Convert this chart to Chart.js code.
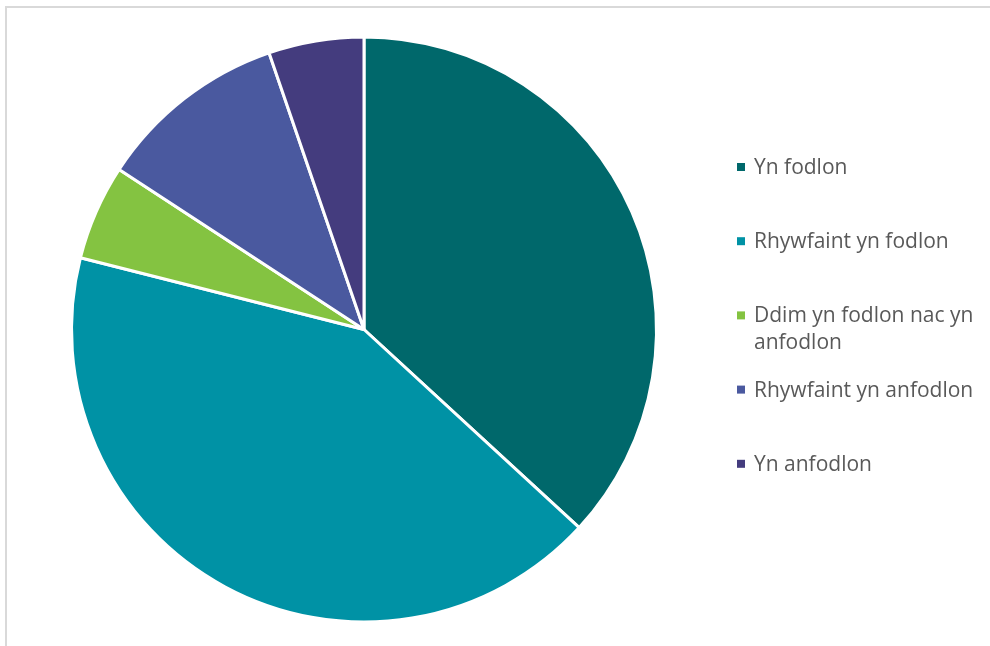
<!DOCTYPE html>
<html>
<head>
<meta charset="utf-8">
<script src="https://cdn.jsdelivr.net/npm/chart.js@4.4.0/dist/chart.umd.min.js"></script>
<style>
  html, body { margin: 0; padding: 0; background: #ffffff; overflow: hidden; }
  #wrap { position: relative; width: 990px; height: 646px; }
  #frame { position: absolute; left: 5px; top: 6px; width: 1000px; height: 660px;
           border-left: 2px solid #d9d9d9; border-top: 2px solid #d9d9d9; box-sizing: border-box; }
  canvas { position: absolute; left: 0; top: 0; }
</style>
</head>
<body>
<div id="wrap">
  <div id="frame"></div>
  <canvas id="c" width="990" height="646"></canvas>
</div>
<script>
const categories = [
  "Yn fodlon",
  "Rhywfaint yn fodlon",
  "Ddim yn fodlon nac yn anfodlon",
  "Rhywfaint yn anfodlon",
  "Yn anfodlon"
];
const values = [7, 8, 1, 2, 1];
const colors = ["#00686b", "#0092a5", "#84c341", "#4a599f", "#443c7e"];

const sideLegend = {
  id: 'sideLegend',
  afterDraw(chart) {
    const ctx = chart.ctx;
    const x0 = 737, textX = 754, y0 = 167, step = 74.2, lineH = 27, maxW = 235;
    ctx.save();
    ctx.font = '21px "Open Sans", sans-serif';
    ctx.textBaseline = 'middle';
    chart.data.labels.forEach((lab, i) => {
      const y = y0 + i * step;
      ctx.fillStyle = chart.data.datasets[0].backgroundColor[i];
      ctx.fillRect(x0, y - 4, 8, 8);
      const words = lab.split(' ');
      const lines = [];
      let cur = '';
      words.forEach(w => {
        const t = cur ? cur + ' ' + w : w;
        if (ctx.measureText(t).width > maxW && cur) { lines.push(cur); cur = w; }
        else cur = t;
      });
      lines.push(cur);
      ctx.fillStyle = '#595959';
      lines.forEach((ln, k) => ctx.fillText(ln, textX, y + 1 + k * lineH));
    });
    ctx.restore();
  }
};

new Chart(document.getElementById('c'), {
  type: 'pie',
  data: {
    labels: categories,
    datasets: [{
      data: values,
      backgroundColor: colors,
      borderColor: '#ffffff',
      borderWidth: 3
    }]
  },
  options: {
    responsive: false,
    animation: false,
    layout: { padding: { left: 70, right: 332, top: 35, bottom: 22 } },
    plugins: { legend: { display: false }, tooltip: { enabled: false } }
  },
  plugins: [sideLegend]
});
</script>
</body>
</html>
